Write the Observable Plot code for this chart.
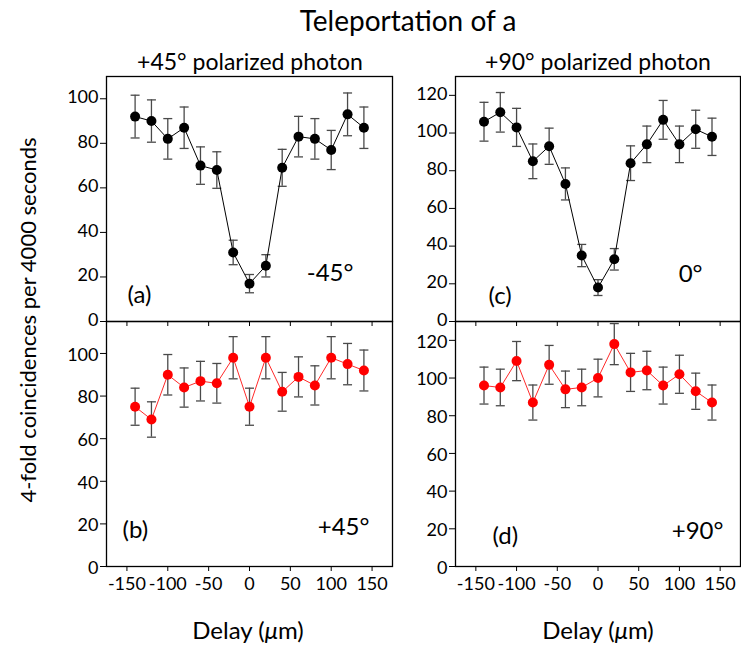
<!DOCTYPE html>
<html><head><meta charset="utf-8">
<script src="https://cdn.jsdelivr.net/npm/d3@7"></script>
<script src="https://cdn.jsdelivr.net/npm/@observablehq/plot@0.6"></script>
<style>
body{margin:0;background:#fff;}
#wrap{position:relative;width:741px;height:646px;font-family:Lato,"Open Sans",sans-serif;color:#000;overflow:hidden;background:#fff;}
#wrap svg{position:absolute;left:0;top:0;}
.t{position:absolute;white-space:nowrap;transform:translate(-50%,-50%);line-height:1;}
</style></head><body>
<div id="wrap">
<div class="t" style="left:408px;top:20px;font-size:28px;">Teleportation of a</div>
<div class="t" style="left:250px;top:61px;font-size:23px;">+45° polarized photon</div>
<div class="t" style="left:598px;top:61px;font-size:23px;">+90° polarized photon</div>
<div class="t" style="left:248px;top:630px;font-size:24px;">Delay (<i>μ</i>m)</div>
<div class="t" style="left:598px;top:630px;font-size:24px;">Delay (<i>μ</i>m)</div>
<div class="t" style="left:28px;top:320px;font-size:22px;transform:translate(-50%,-50%) rotate(-90deg);">4-fold coincidences per 4000 seconds</div>
</div>
<script>
const delays = [-140, -120, -100, -80, -60, -40, -20, 0, 20, 40, 60, 80, 100, 120, 140];
const xTicks = [-150, -100, -50, 0, 50, 100, 150];

// (a) -45° analysis, +45° input
const countsA = [92, 90, 82, 87, 70, 68, 31, 17, 25, 69, 83, 82, 77, 93, 87];
const errA = [9.6, 9.5, 9.1, 9.3, 8.4, 8.2, 5.5, 4.1, 5.0, 8.3, 9.1, 9.1, 8.8, 9.6, 9.3];
// (b) +45° analysis
const countsB = [75, 69, 90, 84, 87, 86, 98, 75, 98, 82, 89, 85, 98, 95, 92];
const errB = [8.7, 8.3, 9.5, 9.2, 9.3, 9.3, 9.9, 8.7, 9.9, 9.1, 9.4, 9.2, 9.9, 9.7, 9.6];
// (c) 0° analysis, +90° input
const countsC = [106, 111, 103, 85, 93, 73, 35, 18, 33, 84, 94, 107, 94, 102, 98];
const errC = [10.3, 10.5, 10.1, 9.2, 9.6, 8.5, 5.9, 4.2, 5.7, 9.2, 9.7, 10.3, 9.7, 10.1, 9.9];
// (d) +90° analysis
const countsD = [96, 95, 109, 87, 107, 94, 95, 100, 118, 103, 104, 96, 102, 93, 87];
const errD = [9.8, 9.7, 10.4, 9.3, 10.3, 9.7, 9.7, 10.0, 10.9, 10.1, 10.2, 9.8, 10.1, 9.6, 9.3];

const yTicksA = [0, 20, 40, 60, 80, 100];
const yTicksC = [0, 20, 40, 60, 80, 100, 120];

const W = 741, H = 606;
const FONT = "Lato, 'Open Sans', sans-serif";
const cap = {draw(ctx, size) { const r = Math.sqrt(size / Math.PI); ctx.moveTo(-r, 0); ctx.lineTo(r, 0); }};

function panel(o) {
  const rows = delays.map((x, i) => ({x, y: o.counts[i], e: o.errs[i]}));
  const ebar = {stroke: "#4a4a4a", strokeWidth: 1.3};
  return Plot.plot({
    width: W, height: H,
    marginLeft: o.left, marginRight: W - o.right, marginTop: o.top, marginBottom: H - o.bottom,
    x: {domain: [-175, 175]},
    y: {domain: o.yDomain},
    style: {background: "transparent", fontFamily: FONT, fontSize: "18px", overflow: "visible", color: "#000"},
    marks: [
      Plot.ruleX(rows, {x: "x", y1: d => d.y - d.e, y2: d => d.y + d.e, ...ebar}),
      Plot.dot(rows, {x: "x", y: d => d.y + d.e, symbol: cap, r: 4.5, fill: "none", ...ebar}),
      Plot.dot(rows, {x: "x", y: d => d.y - d.e, symbol: cap, r: 4.5, fill: "none", ...ebar}),
      Plot.line(rows, {x: "x", y: "y", stroke: o.line, strokeWidth: 1}),
      Plot.dot(rows, {x: "x", y: "y", r: 5, fill: o.color, stroke: "none"}),
      Plot.frame({stroke: "#000", strokeWidth: 1.3}),
      Plot.axisY({ticks: o.yTicks, tickSize: 6, tickFormat: () => "", label: null}),
      Plot.axisY({ticks: o.yTicks, tickSize: 0, tickPadding: 8, tickFormat: d => String(d), label: null, dy: o.yDy}),
      Plot.axisX({ticks: xTicks, tickSize: 5, tickPadding: 6, tickFormat: o.xLabels ? (d => String(d)) : (() => ""), label: null}),
      Plot.text([o.tagL], {text: d => d, frameAnchor: "bottom-left", textAnchor: "start", lineAnchor: "middle", dx: o.tagLdx, dy: o.tagLdy, fontSize: 24}),
      Plot.text([o.tagR], {text: d => d, frameAnchor: "bottom-right", textAnchor: "end", lineAnchor: "middle", dx: o.tagRdx, dy: o.tagRdy, fontSize: 24})
    ]
  });
}

const wrap = document.getElementById("wrap");
wrap.append(panel({counts: countsA, errs: errA, yDomain: [0, 110], yTicks: yTicksA, left: 106, right: 392, top: 76, bottom: 321, yDy: -1.5,
  color: "#000", line: "#000", xLabels: false, tagL: "(a)", tagLdx: 21, tagLdy: -26, tagR: "-45°", tagRdx: -39, tagRdy: -48}));
wrap.append(panel({counts: countsB, errs: errB, yDomain: [0, 115], yTicks: yTicksA, left: 106, right: 392, top: 321, bottom: 566, yDy: 1.5,
  color: "#ff0000", line: "#ff2a2a", xLabels: true, tagL: "(b)", tagLdx: 16, tagLdy: -36, tagR: "+45°", tagRdx: -23, tagRdy: -39}));
wrap.append(panel({counts: countsC, errs: errC, yDomain: [0, 130], yTicks: yTicksC, left: 455, right: 740, top: 76, bottom: 321, yDy: -1.5,
  color: "#000", line: "#000", xLabels: false, tagL: "(c)", tagLdx: 33, tagLdy: -25, tagR: "0°", tagRdx: -38, tagRdy: -47}));
wrap.append(panel({counts: countsD, errs: errD, yDomain: [0, 130], yTicks: yTicksC, left: 455, right: 740, top: 321, bottom: 566, yDy: 1.5,
  color: "#ff0000", line: "#ff2a2a", xLabels: true, tagL: "(d)", tagLdx: 37, tagLdy: -30, tagR: "+90°", tagRdx: -17, tagRdy: -35}));
</script>
</body></html>
